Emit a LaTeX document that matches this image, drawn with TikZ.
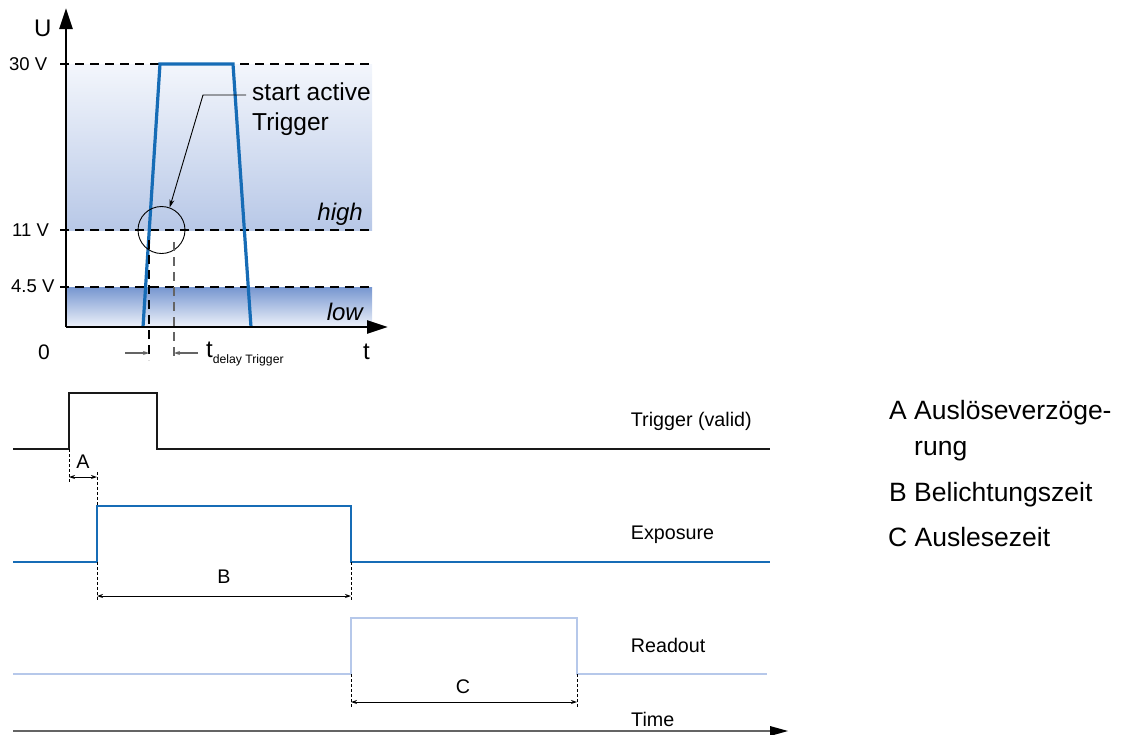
\documentclass[tikz,border=0pt]{standalone}
\usepackage{fontspec}
\setmainfont{Liberation Sans}
\usetikzlibrary{arrows.meta}
\definecolor{sigblue}{RGB}{22,108,182}
\definecolor{readblue}{RGB}{182,200,234}
\definecolor{hightop}{RGB}{243,246,252}
\definecolor{highbot}{RGB}{184,200,231}
\definecolor{lowtop}{RGB}{118,150,208}
\definecolor{lowbot}{RGB}{238,242,250}
\definecolor{dimgray}{RGB}{100,100,100}
\begin{document}
\begin{tikzpicture}[x=1pt,y=-1pt,
  txt/.style={inner sep=0pt,anchor=base west},
  ax/.style={font=\fontsize{18.5}{20}\selectfont,txt},
  big/.style={font=\fontsize{24}{26}\selectfont,txt},
  sig/.style={font=\fontsize{19.7}{22}\selectfont,txt},
  leg/.style={font=\fontsize{26.5}{30}\selectfont,txt},
  axisline/.style={line width=2.7pt,-{Triangle[length=21pt,width=13pt]}},
  level/.style={line width=1.2pt,dash pattern=on 9pt off 6pt},
  vdash/.style={line width=1.2pt,dash pattern=on 9pt off 6pt},
  dimline/.style={line width=0.9pt,{Stealth[length=6pt,width=4pt]}-{Stealth[length=6pt,width=4pt]}},
  dimdash/.style={line width=0.9pt,dash pattern=on 3pt off 2pt},
  trace/.style={line width=2.6pt,line join=miter}]
\useasboundingbox (0,0) rectangle (1127,734);

% ---------- top chart ----------
\shade[top color=hightop,bottom color=highbot] (66,64) rectangle (372,230);
\shade[top color=lowtop,bottom color=lowbot] (66,287) rectangle (372,327);

\draw[level] (60,64) -- (372,64);
\draw[level] (60,230) -- (372,230);
\draw[level] (60,287) -- (372,287);

\draw[sigblue,line width=3.2pt,line join=miter] (143,327) -- (160,64) -- (233,64) -- (251,327);

\coordinate (o) at (66,327);
\coordinate (ytip) at (66,8);
\coordinate (xtip) at (388,327);
\draw[axisline] (o) -- (ytip);
\draw[axisline] (o) -- (xtip);

\node[big] (U) at (34,36.7) {U};
\node[ax] (v30) at (9,70) {30 V};
\node[ax] (v11) at (12,236) {11 V};
\node[ax] (v45) at (11,292) {4.5 V};
\node[font=\fontsize{21}{24}\selectfont,txt] (zero) at (38,359) {0};
\node[big] (tt) at (363,359) {t};
\node[big,font=\fontsize{24}{26}\selectfont\itshape,anchor=base east] (high) at (363,220) {high};
\node[big,font=\fontsize{24}{26}\selectfont\itshape,anchor=base east] (low) at (363,320) {low};

\node[big,font=\fontsize{24.5}{30}\selectfont] (sat) at (252,100) {start active};
\node[big,font=\fontsize{24.5}{30}\selectfont] (sat2) at (252,130) {Trigger};

\node[draw,circle,line width=0.9pt,minimum size=47pt,inner sep=0pt] (circ) at (161.5,230) {};
\coordinate (bend) at (203,95);
\coordinate (satstart) at (246,95);
\draw[line width=0.9pt,-{Stealth[length=8pt,width=5pt]}] (satstart) -- (bend) -- (circ.70);

\coordinate (d1a) at (149,240);
\coordinate (d1b) at (149,360);
\coordinate (d2a) at (174,242);
\coordinate (d2b) at (174,360);
\draw[vdash] (d1a) -- (d1b);
\draw[vdash,dimgray] (d2a) -- (d2b);
\coordinate (dl0) at (125,353);
\coordinate (dl1) at (149,353);
\coordinate (dr1) at (174,353);
\coordinate (dr0) at (198,353);
\draw[dimgray,line width=1.2pt,-{Stealth[length=6pt,width=4pt]}] (dl0) -- (dl1);
\draw[dimgray,line width=1.2pt,-{Stealth[length=6pt,width=4pt]}] (dr0) -- (dr1);
\node[big] (tdel) at (206,357) {t\raisebox{-6pt}{\fontsize{12.2}{14}\selectfont delay Trigger}};

% ---------- timing diagram ----------
\draw[trace,black!90] (13,449) -- (69,449) -- (69,393) -- (157,393) -- (157,449) -- (770,449);
\draw[trace,sigblue] (13,562) -- (97,562) -- (97,506) -- (351,506) -- (351,562) -- (770,562);
\draw[trace,readblue] (13,674) -- (351,674) -- (351,618) -- (577,618) -- (577,674) -- (767,674);

\coordinate (t0) at (13,731);
\coordinate (t1) at (788,731);
\draw[dimgray,line width=2pt] (t0) -- (770,731);
\draw[line width=0pt,draw=none,fill=black] (t1) -- (770,726) -- (770,736) -- cycle;

\node[sig] (ltrig) at (630.7,426.7) {Trigger (valid)};
\node[sig] (lexp) at (630.7,539) {Exposure};
\node[sig] (lread) at (630.7,652.7) {Readout};
\node[sig] (ltime) at (631,726) {Time};

% A
\draw[dimdash] (69,449) -- (69,482);
\draw[dimdash] (97,472) -- (97,506);
\coordinate (a0) at (69,477);
\coordinate (a1) at (97,477);
\draw[dimline] (a0) -- (a1);
\node[sig,anchor=base] (la) at (83,468) {A};
% B
\draw[dimdash] (97,562) -- (97,600);
\draw[dimdash] (351,562) -- (351,600);
\coordinate (b0) at (97,596);
\coordinate (b1) at (351,596);
\draw[dimline] (b0) -- (b1);
\node[sig,anchor=base] (lb) at (224,583) {B};
% C
\draw[dimdash] (351,674) -- (351,708);
\draw[dimdash] (577,674) -- (577,708);
\coordinate (c0) at (351,702);
\coordinate (c1) at (577,702);
\draw[dimline] (c0) -- (c1);
\node[sig,anchor=base] (lc) at (463,693) {C};

% legend
\node[leg] (legA) at (889,419) {A Auslöseverzöge-};
\node[leg] (legA2) at (914,455) {rung};
\node[leg] (legB) at (889,501.7) {B Belichtungszeit};
\node[leg] (legC) at (888,546.7) {C Auslesezeit};
\end{tikzpicture}
\end{document}
